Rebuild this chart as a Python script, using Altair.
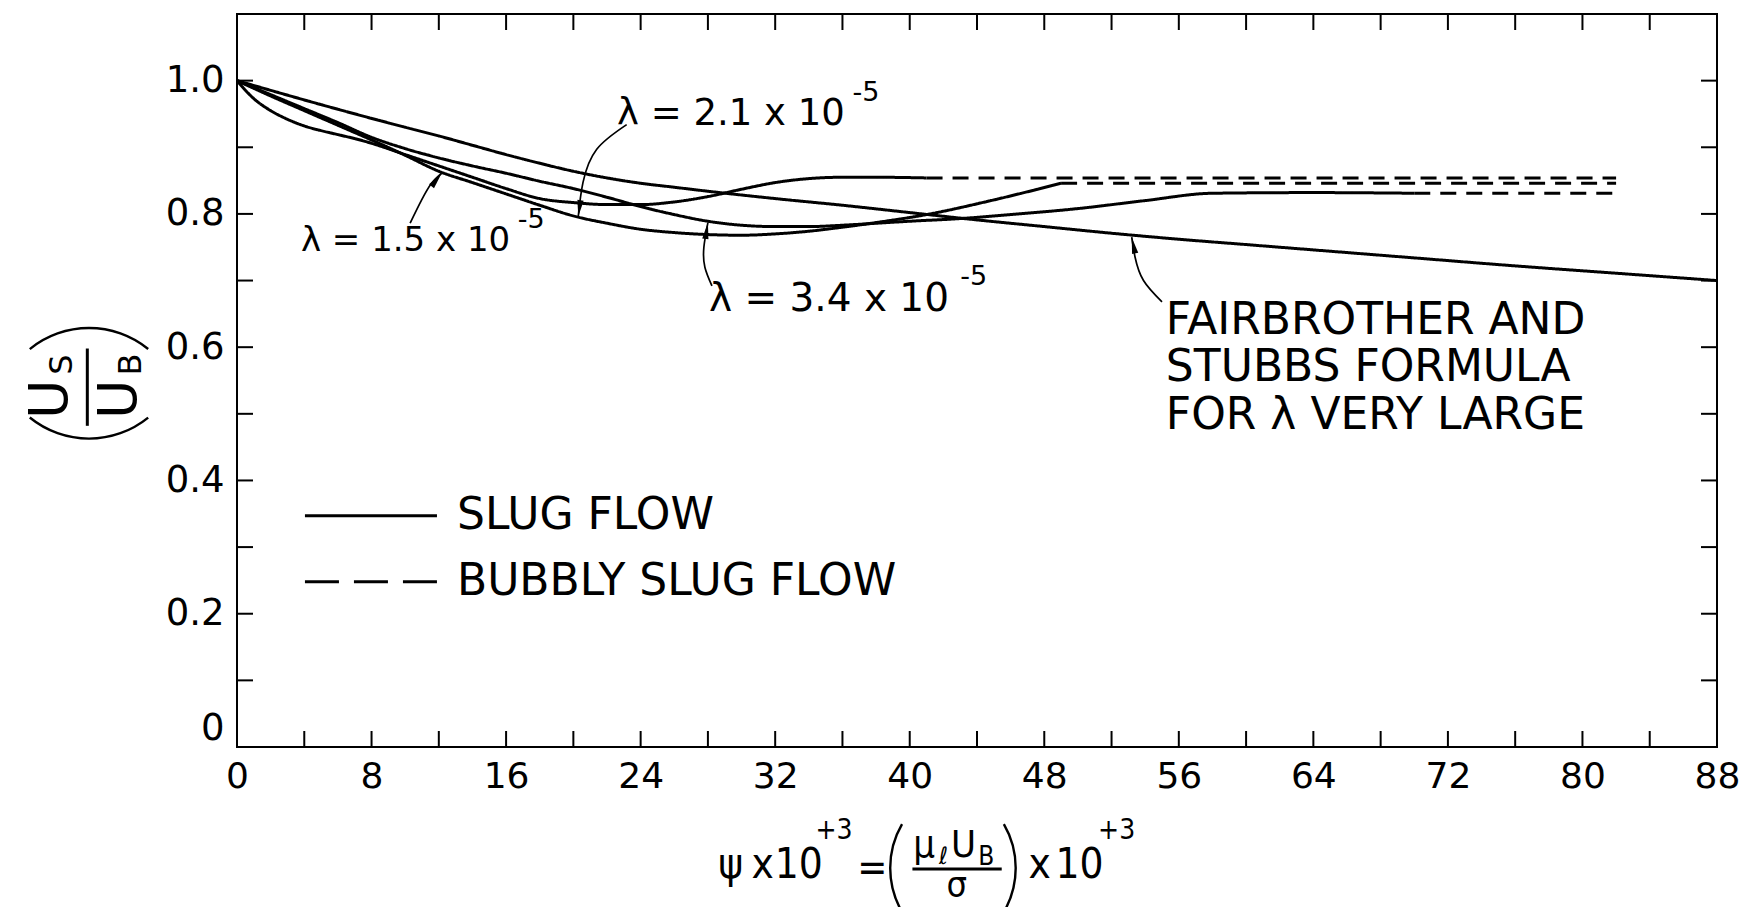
import altair as alt
import pandas as pd

# ---------------- values ----------------
# Fairbrother and Stubbs formula (lambda very large) - solid
FS_X = [0, 5, 10, 12, 14, 16, 18, 20, 22, 24, 26, 28, 32, 36, 40, 44, 48, 52, 56, 60, 64, 70, 76, 82, 88]
FS_Y = [1.0, 0.964, 0.930, 0.917, 0.903, 0.889, 0.876, 0.864, 0.854, 0.846, 0.840, 0.834, 0.823,
        0.813, 0.802, 0.791, 0.781, 0.771, 0.762, 0.754, 0.746, 0.734, 0.722, 0.711, 0.700]

# lambda = 2.1e-5 : slug flow (solid) then bubbly slug flow (dashed)
L21_X = [0, 1, 2, 3, 4, 5, 6, 7, 8, 10, 12, 14, 16, 18, 20, 22, 24, 26, 28, 30, 32, 34, 36, 38, 41]
L21_Y = [1.0, 0.973, 0.955, 0.942, 0.932, 0.925, 0.919, 0.913, 0.906, 0.889, 0.872, 0.855, 0.838,
         0.823, 0.817, 0.814, 0.814, 0.818, 0.826, 0.837, 0.847, 0.853, 0.855, 0.855, 0.854]
L21_DX = [41, 82]
L21_DY = [0.854, 0.854]

# lambda = 1.5e-5
L15_X = [0, 2, 4, 6, 8, 10, 12, 14, 16, 18, 20, 22, 24, 26, 28, 30, 32, 34, 36, 38, 41, 45, 49]
L15_Y = [1.0, 0.977, 0.955, 0.933, 0.911, 0.888, 0.864, 0.847, 0.830, 0.813, 0.797, 0.786, 0.777,
         0.772, 0.769, 0.768, 0.770, 0.774, 0.780, 0.787, 0.799, 0.821, 0.846]
L15_DX = [49, 82]
L15_DY = [0.846, 0.846]

# lambda = 3.4e-5
L34_X = [0, 2, 4, 6, 8, 10, 12, 14, 16, 18, 20, 22, 24, 26, 28, 30, 32, 34, 36, 38, 40, 43, 46,
         50, 54, 58, 64, 70]
L34_Y = [1.0, 0.979, 0.958, 0.937, 0.915, 0.898, 0.884, 0.872, 0.861, 0.849, 0.838, 0.825, 0.811,
         0.799, 0.789, 0.783, 0.781, 0.781, 0.783, 0.786, 0.789, 0.793, 0.799, 0.808, 0.820, 0.831,
         0.832, 0.831]
L34_DX = [70, 82]
L34_DY = [0.831, 0.831]

# axis values
X_LABELS = [0, 8, 16, 24, 32, 40, 48, 56, 64, 72, 80, 88]
X_TICKS = [0, 4, 8, 12, 16, 20, 24, 28, 32, 36, 40, 44, 48, 52, 56, 60, 64, 68, 72, 76, 80, 84, 88]
Y_LABELS = [0, 0.2, 0.4, 0.6, 0.8, 1.0]
Y_TICKS = [0.1, 0.2, 0.3, 0.4, 0.5, 0.6, 0.7, 0.8, 0.9, 1.0]

# ---------------- build tables ----------------
rows = []
for name, style, xs_, ys_ in [
    ("fs", "solid", FS_X, FS_Y),
    ("l21", "solid", L21_X, L21_Y), ("l21", "dashed", L21_DX, L21_DY),
    ("l15", "solid", L15_X, L15_Y), ("l15", "dashed", L15_DX, L15_DY),
    ("l34", "solid", L34_X, L34_Y), ("l34", "dashed", L34_DX, L34_DY),
]:
    for xv, yv in zip(xs_, ys_):
        rows.append({"x": xv, "y": yv, "seg": name + "_" + style, "style": style})
curves = pd.DataFrame(rows)

W, H = 1480, 733
FONT = "DejaVu Sans"
NARROW = "Liberation Sans Narrow, DejaVu Sans Condensed, Arial Narrow, sans-serif"
xs = alt.Scale(domain=[0, 88], nice=False, zero=False)
ys = alt.Scale(domain=[0, 1.1], nice=False, zero=False)

X_AXIS = alt.Axis(values=X_LABELS, tickSize=0, domain=False, grid=False, labelFont=FONT,
                  labelFontSize=36, labelColor="black", labelPadding=12,
                  labelFlush=False, labelOverlap=False, title=None)
Y_AXIS = alt.Axis(values=Y_LABELS, tickSize=0, domain=False, grid=False, labelFont=FONT,
                  labelFontSize=37, labelColor="black", labelPadding=13,
                  labelFlush=True, labelFlushOffset=0, labelOverlap=False, title=None,
                  labelExpr="datum.value == 0 ? '0' : format(datum.value, '.1f')")


def X(field="x"):
    return alt.X(f"{field}:Q", scale=xs, axis=X_AXIS, title=None)


def Y(field="y"):
    return alt.Y(f"{field}:Q", scale=ys, axis=Y_AXIS, title=None)


lines = alt.Chart(curves).mark_line(interpolate="monotone", strokeWidth=3, color="black").encode(
    x=X(), y=Y(),
    detail="seg:N",
    strokeDash=alt.StrokeDash("style:N", legend=None,
                              scale=alt.Scale(domain=["solid", "dashed"], range=[[1, 0], [16, 10]])),
)

# inward ticks on all four sides
xt = pd.DataFrame({"x": X_TICKS})
yt = pd.DataFrame({"y": Y_TICKS})
TL = 16
tick_b = alt.Chart(xt).mark_rule(color="black", strokeWidth=2).encode(x=X(), y=alt.value(H), y2=alt.value(H - TL))
tick_t = alt.Chart(xt).mark_rule(color="black", strokeWidth=2).encode(x=X(), y=alt.value(0), y2=alt.value(TL))
tick_l = alt.Chart(yt).mark_rule(color="black", strokeWidth=2).encode(y=Y(), x=alt.value(0), x2=alt.value(TL))
tick_r = alt.Chart(yt).mark_rule(color="black", strokeWidth=2).encode(y=Y(), x=alt.value(W), x2=alt.value(W - TL))

# ---------------- annotations ----------------
left_text = pd.DataFrame([
    {"t": "λ = 2.1 x 10", "x": 22.6, "y": 0.950, "s": 37},
    {"t": "-5", "x": 36.6, "y": 0.981, "s": 27},
    {"t": "λ = 1.5 x 10", "x": 3.8, "y": 0.760, "s": 34},
    {"t": "-5", "x": 16.7, "y": 0.791, "s": 27},
    {"t": "λ = 3.4 x 10", "x": 28.06, "y": 0.673, "s": 39},
    {"t": "-5", "x": 43.0, "y": 0.706, "s": 27},
    {"t": "FAIRBROTHER  AND", "x": 55.23, "y": 0.640, "s": 44},
    {"t": "STUBBS FORMULA", "x": 55.23, "y": 0.569, "s": 44},
    {"t": "FOR λ VERY LARGE", "x": 55.23, "y": 0.497, "s": 44},
    {"t": "SLUG FLOW", "x": 13.08, "y": 0.347, "s": 44},
    {"t": "BUBBLY SLUG FLOW", "x": 13.08, "y": 0.248, "s": 44},
])
title_text = pd.DataFrame([
    {"t": "ψ", "x": 29.35, "y": -0.1764, "s": 42},
    {"t": "x", "x": 31.25, "y": -0.1764, "s": 42},
    {"t": "10", "x": 33.40, "y": -0.1764, "s": 42},
    {"t": "+3", "x": 35.50, "y": -0.1261, "s": 28},
    {"t": "=", "x": 37.77, "y": -0.1830, "s": 40},
    {"t": "μ", "x": 40.85, "y": -0.1490, "s": 38},
    {"t": "ℓ", "x": 42.0, "y": -0.1650, "s": 24},
    {"t": "U", "x": 43.20, "y": -0.1490, "s": 38},
    {"t": "B", "x": 44.55, "y": -0.1650, "s": 26},
    {"t": "σ", "x": 42.8, "y": -0.2090, "s": 36},
    {"t": "x", "x": 47.72, "y": -0.1764, "s": 42},
    {"t": "10", "x": 50.1, "y": -0.1764, "s": 42},
    {"t": "+3", "x": 52.3, "y": -0.1261, "s": 28},
])
rot_text = pd.DataFrame([
    {"t": "U", "x": -11.05, "y": 0.522, "s": 54},
    {"t": "S", "x": -10.40, "y": 0.574, "s": 32},
    {"t": "U", "x": -6.95, "y": 0.522, "s": 54},
    {"t": "B", "x": -6.30, "y": 0.574, "s": 32},
])

t_left = alt.Chart(left_text).mark_text(align="left", baseline="middle", font=FONT, color="black").encode(
    x=X(), y=Y(), text="t:N", size=alt.Size("s:Q", scale=None, legend=None))
t_title = alt.Chart(title_text).mark_text(align="center", baseline="middle", font=NARROW, color="black").encode(
    x=X(), y=Y(), text="t:N", size=alt.Size("s:Q", scale=None, legend=None))
t_rot = alt.Chart(rot_text).mark_text(align="center", baseline="middle", font=FONT, color="black", angle=270).encode(
    x=X(), y=Y(), text="t:N", size=alt.Size("s:Q", scale=None, legend=None))

# fraction bars
bars = pd.DataFrame([
    {"x": 40.16, "x2": 45.47, "y": -0.1832, "y2": -0.1832},
    {"x": -8.90, "x2": -8.90, "y": 0.598, "y2": 0.482},
])
frac = alt.Chart(bars).mark_rule(color="black", strokeWidth=3).encode(x=X(), x2="x2:Q", y=Y(), y2="y2:Q")


# parentheses drawn as thin arcs
def arc(cx, cy, r, t1, t2):
    return alt.Chart(pd.DataFrame({"x": [cx], "y": [cy]})).mark_arc(
        color="black", theta=t1, theta2=t2, outerRadius=r, innerRadius=r - 2.4
    ).encode(x=X(), y=Y())


arcs = [
    arc(-8.80, 0.488, 95, 5.600, 6.966),     # top arc of y title
    arc(-8.80, 0.6036, 95, 2.459, 3.825),    # bottom arc of y title
    arc(44.03, -0.1817, 88.5, 4.185, 5.239),  # "(" of x title
    arc(41.11, -0.1817, 88.5, 1.044, 2.098),  # ")" of x title
]

# legend samples
leg_solid = alt.Chart(pd.DataFrame({"x": [4.04], "x2": [11.89], "y": [0.347]})).mark_rule(
    color="black", strokeWidth=3).encode(x=X(), x2="x2:Q", y=Y())
leg_dash = alt.Chart(pd.DataFrame({"x": [4.04], "x2": [11.89], "y": [0.248]})).mark_rule(
    color="black", strokeWidth=3, strokeDash=[34, 15]).encode(x=X(), x2="x2:Q", y=Y())

# annotation arrows
arrow_rows = []
for aid, pts in [
    ("a21", [(23.17, 0.934), (21.39, 0.897), (20.57, 0.847), (20.29, 0.796)]),
    ("a15", [(10.29, 0.786), (10.98, 0.821), (11.57, 0.846), (12.17, 0.861)]),
    ("a34", [(28.24, 0.692), (27.82, 0.720), (27.76, 0.750), (28.0, 0.787)]),
    ("afs", [(55.0, 0.668), (53.9, 0.700), (53.4, 0.735), (53.2, 0.765)]),
]:
    for i, (xv, yv) in enumerate(pts):
        arrow_rows.append({"id": aid, "i": i, "x": xv, "y": yv})
arrows = alt.Chart(pd.DataFrame(arrow_rows)).mark_line(
    color="black", strokeWidth=1.7, interpolate="natural").encode(
    x=X(), y=Y(), detail="id:N", order=alt.Order("i:Q"))

heads = pd.DataFrame([
    {"x": 20.29, "y": 0.796, "a": 188},
    {"x": 12.17, "y": 0.861, "a": 38},
    {"x": 28.0, "y": 0.787, "a": 9},
    {"x": 53.2, "y": 0.765, "a": 348},
])
arrow_heads = alt.Chart(heads).mark_point(
    shape="M0,0L0.42,2.2L-0.42,2.2Z", filled=True, color="black", opacity=1, size=225, strokeWidth=0
).encode(x=X(), y=Y(), angle=alt.Angle("a:Q", scale=None))

chart = alt.layer(
    lines, tick_b, tick_t, tick_l, tick_r, t_left, t_title, t_rot, frac, *arcs,
    leg_solid, leg_dash, arrows, arrow_heads
).properties(
    width=W, height=H,
    padding={"left": 229, "top": 6, "right": 24, "bottom": 160},
    autosize=alt.AutoSizeParams(type="none"),
    background="white",
).configure_view(stroke="black", strokeWidth=2)

chart.save("out.html", embed_options={"renderer": "svg", "actions": False})
